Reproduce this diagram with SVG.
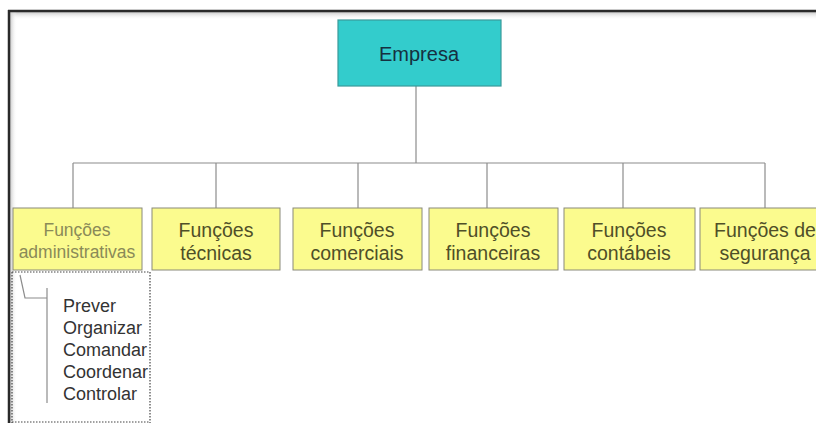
<svg xmlns="http://www.w3.org/2000/svg" width="816" height="423" viewBox="0 0 816 423">
<defs>
<linearGradient id="shTop" x1="0" y1="0" x2="0" y2="1"><stop offset="0" stop-color="#c8c8c8"/><stop offset="1" stop-color="#ffffff" stop-opacity="0"/></linearGradient>
<linearGradient id="shLeft" x1="0" y1="0" x2="1" y2="0"><stop offset="0" stop-color="#c8c8c8"/><stop offset="1" stop-color="#ffffff" stop-opacity="0"/></linearGradient>
</defs>
<style>
.box{fill:#fbfb8e;stroke:#8a8a7a;stroke-width:1}
.lbl{font-family:"Liberation Sans",Arial,sans-serif;font-size:19.5px;fill:#4f4f28;text-anchor:middle}
.small{font-size:17.5px;fill:#8a8a58}
.conn{stroke:#8c8c8c;stroke-width:1.2;fill:none}
.list{font-family:"Liberation Sans",Arial,sans-serif;font-size:18px;fill:#333333}
.dot{stroke:#444;stroke-width:1.2;stroke-dasharray:1.5 1.5;fill:none}
</style>
<rect x="0" y="0" width="816" height="423" fill="#ffffff"/>
<g id="frame">
<rect x="10" y="12" width="806" height="8" fill="url(#shTop)"/>
<rect x="10" y="12" width="7" height="411" fill="url(#shLeft)"/>
<line x1="8" y1="11" x2="816" y2="11" stroke="#2a2a2a" stroke-width="2.5"/>
<line x1="9" y1="10" x2="9" y2="423" stroke="#2a2a2a" stroke-width="2.5"/>
</g>
<g id="connectors">
<line class="conn" x1="416" y1="86" x2="416" y2="163"/>
<line class="conn" x1="73" y1="163" x2="765" y2="163"/>
<line class="conn" x1="73" y1="163" x2="73" y2="208"/>
<line class="conn" x1="216" y1="163" x2="216" y2="208"/>
<line class="conn" x1="358" y1="163" x2="358" y2="208"/>
<line class="conn" x1="487" y1="163" x2="487" y2="208"/>
<line class="conn" x1="623" y1="163" x2="623" y2="208"/>
<line class="conn" x1="765" y1="163" x2="765" y2="208"/>
<polyline class="conn" points="20,275 25,298 47,298"/>
<line class="conn" x1="47" y1="288" x2="47" y2="403"/>
</g>
<g id="empresa">
<rect x="338" y="20" width="163" height="66" fill="#33cccc" stroke="#3a9a9a" stroke-width="1.2"/>
<text x="419" y="61" font-family="Liberation Sans,Arial,sans-serif" font-size="20" fill="#163040" text-anchor="middle">Empresa</text>
</g>
<g id="f-admin">
<rect class="box" x="13" y="208" width="129" height="62"/>
<text class="lbl small" x="77" y="236">Funções</text>
<text class="lbl small" x="77" y="258">administrativas</text>
</g>
<g id="f-tecnicas">
<rect class="box" x="152" y="208" width="128" height="62"/>
<text class="lbl" x="216" y="237">Funções</text>
<text class="lbl" x="216" y="260">técnicas</text>
</g>
<g id="f-comerciais">
<rect class="box" x="293" y="208" width="129" height="62"/>
<text class="lbl" x="357" y="237">Funções</text>
<text class="lbl" x="357" y="260">comerciais</text>
</g>
<g id="f-financeiras">
<rect class="box" x="429" y="208" width="129" height="62"/>
<text class="lbl" x="493" y="237">Funções</text>
<text class="lbl" x="493" y="260">financeiras</text>
</g>
<g id="f-contabeis">
<rect class="box" x="564" y="208" width="131" height="62"/>
<text class="lbl" x="629" y="237">Funções</text>
<text class="lbl" x="629" y="260">contábeis</text>
</g>
<g id="f-seguranca">
<rect class="box" x="700" y="208" width="130" height="62"/>
<text class="lbl" x="765" y="237">Funções de</text>
<text class="lbl" x="765" y="260">segurança</text>
</g>
<g id="admin-list">
<polyline class="dot" points="12,272 150,272 150,423"/>
<line class="dot" x1="12" y1="272" x2="12" y2="423"/>
<line class="dot" x1="12" y1="422" x2="150" y2="422"/>
<text class="list" x="63" y="312">Prever</text>
<text class="list" x="63" y="334">Organizar</text>
<text class="list" x="63" y="356">Comandar</text>
<text class="list" x="63" y="378">Coordenar</text>
<text class="list" x="63" y="400">Controlar</text>
</g>
</svg>
